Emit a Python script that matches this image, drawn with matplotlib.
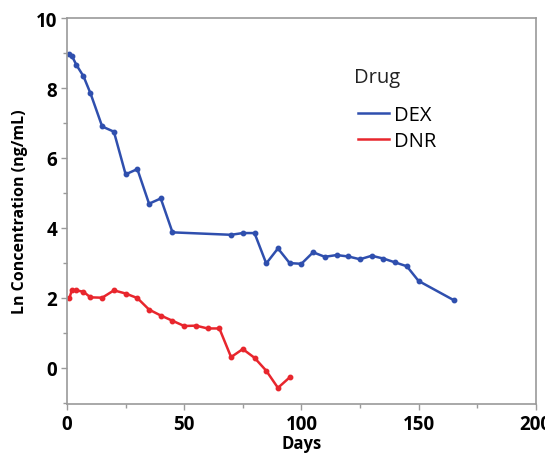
import matplotlib
matplotlib.use("Agg")
import matplotlib.pyplot as plt
from matplotlib.lines import Line2D
from matplotlib.ticker import MultipleLocator

dex_days = [1, 2, 4, 7, 10, 15, 20, 25, 30, 35, 40, 45, 70, 75, 80, 85, 90,
            95, 100, 105, 110, 115, 120, 125, 130, 135, 140, 145, 150, 165]
dex_vals = [8.97, 8.93, 8.66, 8.34, 7.85, 6.90, 6.75, 5.53, 5.68, 4.69, 4.84, 3.87,
            3.80, 3.85, 3.85, 2.98, 3.41, 2.99, 2.97, 3.30, 3.17, 3.22, 3.18, 3.10,
            3.20, 3.12, 3.01, 2.90, 2.48, 1.93]

dnr_days = [1, 2, 4, 7, 10, 15, 20, 25, 30, 35, 40, 45, 50, 55, 60, 65,
            70, 75, 80, 85, 90, 95]
dnr_vals = [1.98, 2.21, 2.21, 2.17, 2.01, 2.00, 2.21, 2.12, 1.99, 1.66, 1.49, 1.34,
            1.19, 1.20, 1.12, 1.12, 0.30, 0.53, 0.28, -0.09, -0.58, -0.28]

DEX_COLOR = '#2f4fae'
DNR_COLOR = '#e8262d'

plt.rcParams['font.family'] = ['Open Sans', 'DejaVu Sans']

fig = plt.figure(figsize=(5.45, 4.56), dpi=100)
ax = fig.add_axes([0.123, 0.112, 0.860, 0.846])

ax.plot(dex_days, dex_vals, color=DEX_COLOR, lw=1.8, marker='o', ms=3.2)
ax.plot(dnr_days, dnr_vals, color=DNR_COLOR, lw=1.8, marker='o', ms=3.2)

ax.set_xlim(0, 200)
ax.set_ylim(-1.04, 10)
ax.xaxis.set_major_locator(MultipleLocator(50))
ax.xaxis.set_minor_locator(MultipleLocator(25))
ax.yaxis.set_major_locator(MultipleLocator(2))
ax.yaxis.set_minor_locator(MultipleLocator(1))

for sp in ax.spines.values():
    sp.set_color('#9a9a9a')
    sp.set_linewidth(1.2)
ax.tick_params(which='both', direction='out', color='#9a9a9a', width=1)
ax.tick_params(which='major', length=4, labelsize=13.5, pad=3)
ax.tick_params(which='minor', length=3)
for lab in ax.get_xticklabels() + ax.get_yticklabels():
    lab.set_fontweight('bold')

ax.set_xlabel('Days', fontsize=12, fontweight='bold', labelpad=0)
ax.set_ylabel('Ln Concentration (ng/mL)', fontsize=11.5, fontweight='bold', labelpad=6)

# legend: title placed by hand for the wider gap above the entries
ax.text(0.613, 0.847, 'Drug', transform=ax.transAxes, fontsize=14.5,
        color='#222222', va='center', ha='left')
handles = [Line2D([], [], color=DEX_COLOR, lw=1.8),
           Line2D([], [], color=DNR_COLOR, lw=1.8)]
ax.legend(handles, ['DEX', 'DNR'], loc='upper left', bbox_to_anchor=(0.583, 0.822),
          frameon=False, fontsize=14.5, handlelength=1.5, handletextpad=0.25,
          labelspacing=0.28)

fig.savefig('out.png', dpi=100)
